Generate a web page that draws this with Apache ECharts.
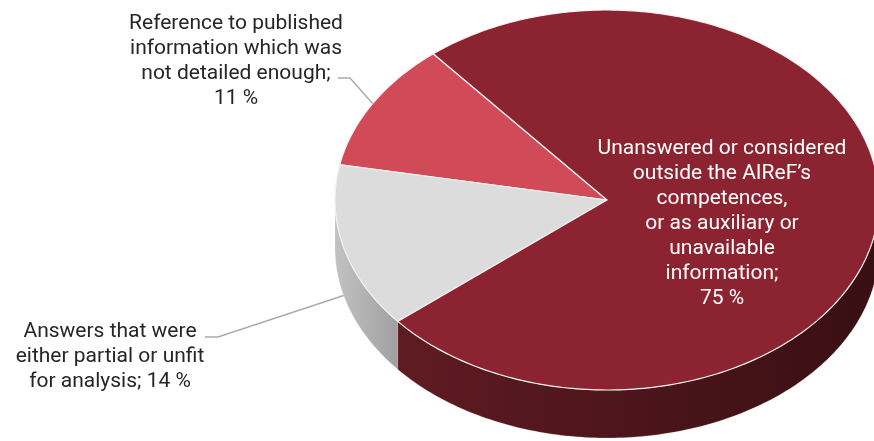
<!DOCTYPE html>
<html>
<head>
<meta charset="utf-8">
<script src="https://cdn.jsdelivr.net/npm/echarts@6/dist/echarts.min.js"></script>
<style>
html,body{margin:0;padding:0;background:#fff;}
#chart{width:874px;height:441px;}
</style>
</head>
<body>
<div id="chart"></div>
<script>
// ---- data ----
const categories = [
  'Reference to published information which was not detailed enough',
  'Answers that were either partial or unfit for analysis',
  'Unanswered or considered outside the AIReF’s competences, or as auxiliary or unavailable information'
];
const values = [11, 14, 75];
const labelLines = [
  ['Reference to published', 'information which was', 'not detailed enough;', '{v} %'],
  ['Answers that were', 'either partial or unfit', 'for analysis; {v} %'],
  ['Unanswered or considered', 'outside the AIReF’s', 'competences,', 'or as auxiliary or', 'unavailable', 'information;', '{v} %']
];

// ---- styles / layout ----
const topColors = ['#d04a58', '#dcdcdc', '#8c2331'];
const sideColors = [['#b8323f', '#9a2430'], ['#c2c2c2', '#a0a0a0'], ['#5f1b22', '#380f13']];
const textColors = ['#262626', '#262626', '#ffffff'];
const L = { cx: 607, cy: 200, rx: 272, ry: 190, depth: 48, startAngle: 129.7 };
const labelLayout = [
  { x: 236, y: 11, leaderStart: [338, 78], leaderBend: [350, 78] },
  { x: 110, y: 319, leaderStart: [205, 337], leaderBend: [218, 337] },
  { x: 722, y: 136, leaderStart: null }
];
const FONT = 'Roboto, "DejaVu Sans", sans-serif';
const FONT_SIZE = 21;
const LINE_H = 25;

function ellPt(deg, dy) {
  const t = deg * Math.PI / 180;
  return [L.cx + L.rx * Math.cos(t), L.cy - L.ry * Math.sin(t) + (dy || 0)];
}
function arc(a, b, dy) {
  const pts = [];
  const n = Math.max(2, Math.ceil(Math.abs(b - a) / 1));
  for (let k = 0; k <= n; k++) pts.push(ellPt(a + (b - a) * k / n, dy));
  return pts;
}

const total = values.reduce((s, v) => s + v, 0);

function renderItem(params, api) {
  const i = params.dataIndex;
  const before = values.slice(0, i).reduce((s, v) => s + v, 0);
  const a0 = L.startAngle + before / total * 360;
  const a1 = a0 + api.value(0) / total * 360;
  const children = [];
  // side (front half only: 180..360 deg)
  for (let k = -1; k <= 1; k++) {
    const lo = 180 + 360 * k, hi = 360 + 360 * k;
    const s = Math.max(a0, lo), e = Math.min(a1, hi);
    if (s < e) {
      const pts = arc(s, e, 0).concat(arc(e, s, L.depth));
      children.push({
        type: 'polygon',
        z2: 1,
        shape: { points: pts },
        style: {
          fill: new echarts.graphic.LinearGradient(0, 0, 1, 0, [
            { offset: 0, color: sideColors[i][0] },
            { offset: 1, color: sideColors[i][1] }
          ]),
          stroke: 'rgba(255,255,255,0.35)',
          lineWidth: 0.6
        }
      });
    }
  }
  // top face
  const topPts = [[L.cx, L.cy]].concat(arc(a0, a1, 0));
  children.push({
    type: 'polygon',
    z2: 2,
    shape: { points: topPts },
    style: { fill: topColors[i], stroke: '#f2f2f2', lineWidth: 1.2 }
  });
  // label
  const lay = labelLayout[i];
  const txt = labelLines[i].map(l => l.replace('{v}', values[i])).join('\n');
  children.push({
    type: 'text',
    z2: 5,
    style: {
      text: txt,
      x: lay.x,
      y: lay.y,
      align: 'center',
      verticalAlign: 'top',
      fill: textColors[i],
      fontSize: FONT_SIZE,
      fontFamily: FONT,
      lineHeight: LINE_H
    }
  });
  if (lay.leaderStart) {
    const mid = (a0 + a1) / 2;
    const midN = ((mid % 360) + 360) % 360;
    const end = ellPt(mid, midN > 180 ? L.depth : 0);
    children.push({
      type: 'polyline',
      z2: 4,
      shape: { points: [lay.leaderStart, lay.leaderBend, end] },
      style: { stroke: '#ababab', lineWidth: 1.5, fill: null }
    });
  }
  return { type: 'group', children: children };
}

const chart = echarts.init(document.getElementById('chart'), null, { renderer: 'canvas' });
chart.setOption({
  animation: false,
  backgroundColor: '#ffffff',
  series: [{
    type: 'custom',
    coordinateSystem: 'none',
    renderItem: renderItem,
    data: values.map((v, i) => ({ name: categories[i], value: [v] }))
  }]
});
</script>
</body>
</html>
